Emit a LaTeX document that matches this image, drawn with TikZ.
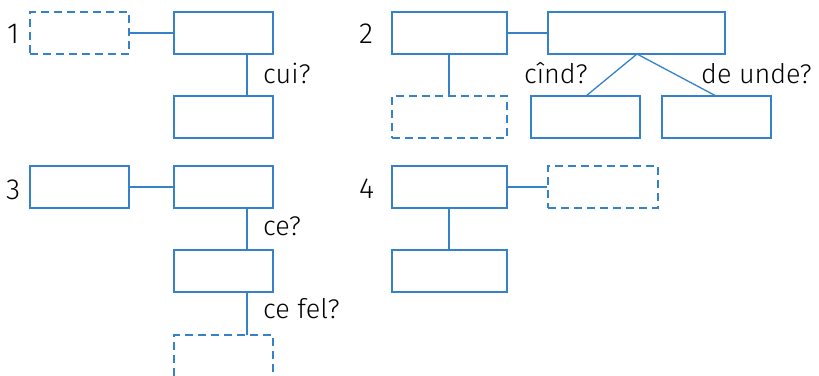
\documentclass[tikz,border=0pt]{standalone}
\usepackage{fontspec}
\setmainfont{Fira Sans}[UprightFont={* Light}]
\definecolor{lineblue}{RGB}{53,130,200}
\tikzset{
  box/.style={draw=lineblue, line width=1.3pt, rectangle, inner sep=0pt, minimum height=42pt},
  dbox/.style={box, dash pattern=on 8pt off 5pt},
  conn/.style={draw=lineblue, line width=1.3pt},
  lbl/.style={anchor=base west, inner sep=0pt, font=\fontsize{27}{27}\selectfont},
  num/.style={anchor=base west, inner sep=0pt, font=\fontsize{29}{29}\selectfont}
}
\begin{document}
\begin{tikzpicture}[x=1pt,y=-1pt]
\useasboundingbox (0,0) rectangle (819,375);
% panel 1
\node[num] (n1) at (7,43) {1};
\node[dbox, minimum width=99pt] (a1) at (79.5,33) {};
\node[box, minimum width=99pt] (b1) at (223.5,33) {};
\node[box, minimum width=99pt] (c1) at (223.5,117) {};
\draw[conn] (a1.east) -- (b1.west);
\coordinate (b1s) at (247,54);
\coordinate (c1n) at (247,96);
\draw[conn] (b1s) -- (c1n);
\node[lbl] (l1) at (263,83) {cui?};
% panel 2
\node[num] (n2) at (359,43) {2};
\node[box, minimum width=115pt] (a2) at (449.5,33) {};
\node[box, minimum width=177pt] (b2) at (636.5,33) {};
\node[dbox, minimum width=115pt] (c2) at (449.5,117) {};
\node[box, minimum width=109pt] (d2) at (585.5,117) {};
\node[box, minimum width=109pt] (e2) at (716.5,117) {};
\draw[conn] (a2.east) -- (b2.west);
\coordinate (a2s) at (449,54);
\coordinate (c2n) at (449,96);
\draw[conn] (a2s) -- (c2n);
\coordinate (b2s) at (637,54);
\coordinate (d2n) at (586,96);
\coordinate (e2n) at (716,96);
\draw[conn] (d2n) -- (b2s) -- (e2n);
\node[lbl] (l2a) at (524,83) {cînd?};
\node[lbl] (l2b) at (701,83) {de unde?};
% panel 3
\node[num] (n3) at (6,199) {3};
\node[box, minimum width=99pt] (a3) at (79.5,187) {};
\node[box, minimum width=99pt] (b3) at (223.5,187) {};
\node[box, minimum width=99pt] (c3) at (223.5,271) {};
\node[dbox, minimum width=99pt] (d3) at (223.5,356) {};
\draw[conn] (a3.east) -- (b3.west);
\coordinate (b3s) at (247,208);
\coordinate (c3n) at (247,250);
\coordinate (c3s) at (247,292);
\coordinate (d3n) at (247,335);
\draw[conn] (b3s) -- (c3n);
\draw[conn] (c3s) -- (d3n);
\node[lbl] (l3a) at (263,235) {ce?};
\node[lbl] (l3b) at (263,318) {ce fel?};
% panel 4
\node[num] (n4) at (359,198) {4};
\node[box, minimum width=115pt] (a4) at (449.5,187) {};
\node[dbox, minimum width=110pt] (b4) at (603,187) {};
\node[box, minimum width=115pt] (c4) at (449.5,271) {};
\draw[conn] (a4.east) -- (b4.west);
\coordinate (a4s) at (449,208);
\coordinate (c4n) at (449,250);
\draw[conn] (a4s) -- (c4n);
\end{tikzpicture}
\end{document}
